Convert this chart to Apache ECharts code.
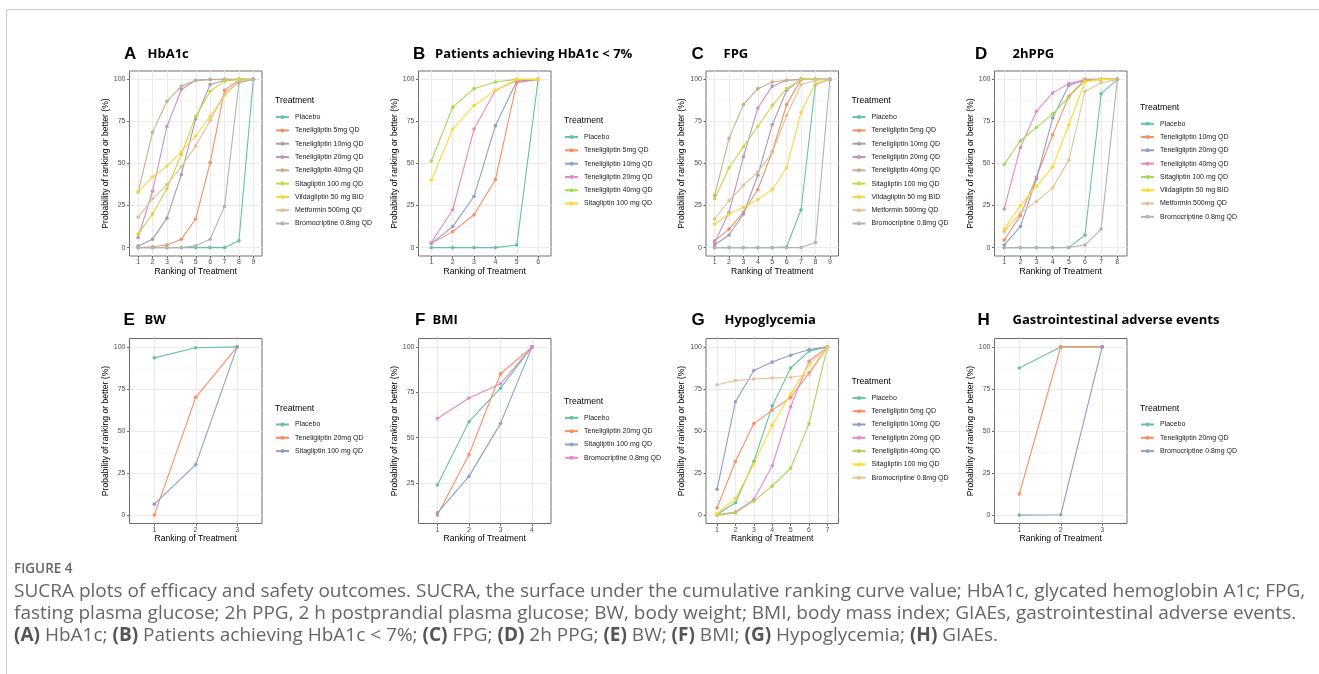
<!DOCTYPE html>
<html>
<head>
<meta charset="utf-8">
<title>SUCRA plots</title>
<script src="https://cdn.jsdelivr.net/npm/echarts@6/dist/echarts.min.js"></script>
<style>
html, body { margin: 0; padding: 0; background: #fff; }
#page { position: relative; width: 1319px; height: 674px; overflow: hidden; }
#graph01 { position: absolute; left: 0; top: 0; width: 1319px; height: 674px; }
#frame { position: absolute; left: 6px; top: 9px; width: 1320px; height: 700px;
  border-left: 1px solid #cfcfcf; border-top: 1px solid #cfcfcf; pointer-events: none; }
#caption { position: absolute; left: 14px; top: 557px; white-space: nowrap;
  font-family: "Open Sans", sans-serif; font-size: 19px; line-height: 22px; color: #666; }
#caption .fig { font-weight: 600; font-size: 13.5px; color: #666; }
#caption b { font-weight: 700; color: #555; }
</style>
</head>
<body>
<div id="page">
  <div id="graph01"></div>
  <div id="frame"></div>
  <div id="caption">
    <div class="fig">FIGURE 4</div>
    SUCRA plots of efficacy and safety outcomes. SUCRA, the surface under the cumulative ranking curve value; HbA1c, glycated hemoglobin A1c; FPG,<br>
    fasting plasma glucose; 2h PPG, 2 h postprandial plasma glucose; BW, body weight; BMI, body mass index; GIAEs, gastrointestinal adverse events.<br>
    <b>(A)</b> HbA1c; <b>(B)</b> Patients achieving HbA1c &lt; 7%; <b>(C)</b> FPG; <b>(D)</b> 2h PPG; <b>(E)</b> BW; <b>(F)</b> BMI; <b>(G)</b> Hypoglycemia; <b>(H)</b> GIAEs.
  </div>
</div>
<script>
// tick labels for the ranking axis
var rankLabels = [1, 2, 3, 4, 5, 6, 7, 8, 9];
var probLabels = [0, 25, 50, 75, 100];
var probMinor = [12.5, 37.5, 62.5, 87.5];

// A  HbA1c
var hba1cTreat = ['Placebo', 'Teneligliptin 5mg QD', 'Teneligliptin 10mg QD', 'Teneligliptin 20mg QD', 'Teneligliptin 40mg QD',
  'Sitagliptin 100 mg QD', 'Vildagliptin 50 mg BID', 'Metformin 500mg QD', 'Bromocriptine 0.8mg QD'];
var hba1cVals = [
  [0, 0, 0, 0, 0, 0, 0, 4, 100],
  [0, 0.5, 1.5, 5, 17, 50.5, 93.5, 99.5, 100],
  [1, 5, 17.5, 43.5, 76.5, 97, 99.5, 100, 100],
  [6, 33.5, 72, 94, 99.5, 100, 100, 100, 100],
  [33, 68.5, 87, 96, 99.3, 99.8, 100, 100, 100],
  [8, 20, 35, 55.5, 78, 93, 99, 100, 100],
  [33, 42, 48.5, 57, 66.5, 78, 90.5, 99, 100],
  [18, 29, 37.5, 48, 60.5, 75.5, 91.5, 98.5, 100],
  [0, 0, 0, 0, 1, 5, 24.5, 98, 100]
];

// B  Patients achieving HbA1c < 7%
var targetTreat = ['Placebo', 'Teneligliptin 5mg QD', 'Teneligliptin 10mg QD', 'Teneligliptin 20mg QD', 'Teneligliptin 40mg QD',
  'Sitagliptin 100 mg QD'];
var targetVals = [
  [0, 0, 0, 0, 1.5, 100],
  [2.5, 9.5, 19.5, 40.5, 98, 100],
  [2.5, 12.5, 30.5, 72.5, 99, 100],
  [3, 22.5, 70.5, 93.5, 99.5, 100],
  [51.5, 83.5, 94.5, 98.5, 100, 100],
  [40, 70.5, 84.5, 93.5, 100, 100]
];

// C  FPG
var fpgTreat = hba1cTreat;
var fpgVals = [
  [0, 0, 0, 0, 0, 0.5, 22.5, 97, 100],
  [4, 11, 21, 34.5, 57, 85, 100, 100, 100],
  [1.5, 7.5, 20, 43, 73, 93.5, 100, 100, 100],
  [3, 21, 54, 83, 96, 99.5, 100, 100, 100],
  [31, 65, 85, 94.5, 98.5, 99.5, 100, 100, 100],
  [29, 47.5, 60, 72, 84.5, 94.5, 100, 100, 100],
  [14, 20, 24, 28.5, 34.5, 47.5, 80.5, 97.5, 100],
  [17, 28, 37, 45, 56.5, 78.5, 97, 99.5, 100],
  [0, 0, 0, 0, 0, 0, 0, 3, 100]
];

// D  2hPPG
var ppgTreat = ['Placebo', 'Teneligliptin 10mg QD', 'Teneligliptin 20mg QD', 'Teneligliptin 40mg QD', 'Sitagliptin 100 mg QD',
  'Vildagliptin 50 mg BID', 'Metformin 500mg QD', 'Bromocriptine 0.8mg QD'];
var ppgVals = [
  [0, 0, 0, 0, 0, 7.5, 91.5, 100],
  [4.5, 19, 42, 67, 90, 100, 100, 100],
  [1.5, 12.5, 41, 77, 96.5, 99.5, 100, 100],
  [23, 59.5, 81, 92, 97.5, 100, 100, 100],
  [49.5, 63.5, 71.5, 79.5, 89.5, 99.5, 100, 100],
  [11, 25, 36.5, 48, 73, 98.5, 100, 100],
  [9.5, 20.5, 27.5, 35.5, 52, 93, 98, 100],
  [0, 0, 0, 0, 0.2, 1.5, 11, 100]
];

// E  BW
var bwTreat = ['Placebo', 'Teneligliptin 20mg QD', 'Sitagliptin 100 mg QD'];
var bwVals = [
  [93.5, 99.5, 100],
  [0, 70, 100],
  [6.5, 30, 100]
];

// F  BMI
var bmiTreat = ['Placebo', 'Teneligliptin 20mg QD', 'Sitagliptin 100 mg QD', 'Bromocriptine 0.8mg QD'];
var bmiVals = [
  [24, 58.8, 77.3, 100],
  [7.4, 40.7, 85.2, 100],
  [8.6, 28.7, 57.9, 100],
  [60.6, 71.9, 79.7, 100]
];

// G  Hypoglycemia
var hypoTreat = ['Placebo', 'Teneligliptin 5mg QD', 'Teneligliptin 10mg QD', 'Teneligliptin 20mg QD', 'Teneligliptin 40mg QD',
  'Sitagliptin 100 mg QD', 'Bromocriptine 0.8mg QD'];
var hypoVals = [
  [0.5, 7.5, 32, 65, 87.5, 97.5, 100],
  [4.5, 32, 54.5, 62.5, 70, 84.5, 100],
  [15.5, 67.5, 86, 91, 95, 98.5, 100],
  [0.5, 2, 9.5, 29.5, 64.5, 91.5, 100],
  [0.2, 1.5, 8.5, 17.5, 28, 54.5, 100],
  [1, 10, 30.5, 53.5, 72, 89.5, 100],
  [77.5, 80, 81, 81.5, 82, 83.5, 100]
];

// H  Gastrointestinal adverse events
var giTreat = ['Placebo', 'Teneligliptin 20mg QD', 'Bromocriptine 0.8mg QD'];
var giVals = [
  [87.5, 100, 100],
  [12.5, 100, 100],
  [0, 0.2, 100]
];

var set2 = ['#66C2A5', '#FC8D62', '#8DA0CB', '#E78AC3', '#A6D854', '#FFD92F', '#E5C494', '#B3B3B3'];
var set2x9 = ['#66C2A5', '#E9946A', '#A99BB1', '#C592C6', '#C6B18B', '#C7D846', '#F8D448', '#DFC298', '#B3B3B3'];

var panels = [
  { id: 'A', title: 'HbA1c', treat: hba1cTreat, vals: hba1cVals, colors: set2x9 },
  { id: 'B', title: 'Patients achieving HbA1c < 7%', treat: targetTreat, vals: targetVals, colors: set2 },
  { id: 'C', title: 'FPG', treat: fpgTreat, vals: fpgVals, colors: set2x9 },
  { id: 'D', title: '2hPPG', treat: ppgTreat, vals: ppgVals, colors: set2 },
  { id: 'E', title: 'BW', treat: bwTreat, vals: bwVals, colors: set2 },
  { id: 'F', title: 'BMI', treat: bmiTreat, vals: bmiVals, colors: set2 },
  { id: 'G', title: 'Hypoglycemia', treat: hypoTreat, vals: hypoVals, colors: set2 },
  { id: 'H', title: 'Gastrointestinal adverse events', treat: giTreat, vals: giVals, colors: set2 }
];

// layout
var colLeft = [129.5, 418.5, 706, 994.5];
var rowTop = [71, 338.5];
var gridW = 132.5, gridH = 185;
var letterX = [124, 413, 691.5, 975, 123.5, 415, 691.5, 977.5];
var titleX = [147.5, 435, 723.5, 1012.5, 144.5, 432.5, 724.5, 1012.5];
var titleY = [54, 320.5];
var itemStep = 13.3, legendItemH = 5;

var axisFont = '"Liberation Sans", Arial, sans-serif';
var chart = echarts.init(document.getElementById('graph01'));
var grids = [], xAxes = [], yAxes = [], series = [], legends = [], texts = [];

panels.forEach(function (p, k) {
  var col = k % 4, row = Math.floor(k / 4);
  var left = colLeft[col], top = rowTop[row];
  var n = p.vals[0].length;
  var all = [].concat.apply([], p.vals);
  var lo = Math.min.apply(null, all), hi = Math.max.apply(null, all);
  var pad = (hi - lo) * 0.05;
  var ymin = lo - pad, ymax = hi + pad;
  var inRange = function (v) { return v >= ymin && v <= ymax; };

  grids.push({ left: left, top: top, width: gridW, height: gridH, show: true,
    borderColor: '#6e6e6e', borderWidth: 1, backgroundColor: '#fff' });

  xAxes.push({
    gridIndex: k, type: 'value', min: 0.4, max: n + 0.6,
    name: 'Ranking of Treatment', nameLocation: 'middle', nameGap: 9,
    nameTextStyle: { fontSize: 8.6, color: '#000', fontFamily: axisFont },
    axisLine: { show: false, onZero: false },
    axisTick: { show: true, length: 2.5, customValues: rankLabels.slice(0, n), lineStyle: { color: '#444', width: 0.8 } },
    axisLabel: { margin: 3, fontSize: 7, color: '#4d4d4d', fontFamily: axisFont, customValues: rankLabels.slice(0, n) },
    splitLine: { show: true, lineStyle: { color: '#ebebeb', width: 1 } }
  });

  yAxes.push({
    gridIndex: k, type: 'value', min: ymin, max: ymax, position: 'left',
    name: 'Probability of ranking or better (%)', nameLocation: 'middle', nameGap: 19,
    nameTextStyle: { fontSize: 8.6, color: '#000', fontFamily: axisFont },
    axisLine: { show: false, onZero: false },
    axisTick: { show: true, length: 2.5, customValues: probLabels.filter(inRange), lineStyle: { color: '#444', width: 0.8 } },
    axisLabel: { margin: 4, fontSize: 7, color: '#4d4d4d', fontFamily: axisFont, customValues: probLabels.filter(inRange) },
    splitLine: { show: true, lineStyle: { color: '#ebebeb', width: 1 } }
  });
  // minor grid lines
  yAxes.push({
    gridIndex: k, type: 'value', min: ymin, max: ymax, position: 'left', z: 0,
    axisLine: { show: false, onZero: false },
    axisTick: { show: false, customValues: probMinor.filter(inRange) },
    axisLabel: { show: false, customValues: probMinor.filter(inRange) },
    splitLine: { show: true, lineStyle: { color: '#f4f4f4', width: 0.6 } }
  });

  var names = [];
  p.treat.forEach(function (t, i) {
    var nm = p.id + '|' + t;
    names.push(nm);
    series.push({
      name: nm, type: 'line', xAxisIndex: k, yAxisIndex: 2 * k,
      data: p.vals[i].map(function (v, j) { return [rankLabels[j], v]; }),
      symbol: 'circle', symbolSize: 3.6, showSymbol: true,
      color: p.colors[i],
      lineStyle: { width: 1.1, color: p.colors[i] },
      itemStyle: { color: p.colors[i] },
      emphasis: { disabled: true }
    });
  });

  // legend block centred on the panel
  var centre = top + gridH / 2 - 1.7;
  var titleCy = centre - (15 + (p.treat.length - 1) * itemStep) / 2;
  var firstCy = titleCy + 15;
  var legLeft = left + gridW + 13;
  legends.push({
    orient: 'vertical', left: legLeft, top: firstCy - legendItemH / 2, padding: 0,
    itemWidth: 13, itemHeight: legendItemH, itemGap: itemStep - 7,
    data: names, selectedMode: false,
    formatter: function (name) { return name.slice(name.indexOf('|') + 1); },
    textStyle: { fontSize: 7, color: '#1a1a1a', fontFamily: axisFont, lineHeight: 7, padding: [0, 0, 0, 1] }
  });
  texts.push({ type: 'text', x: legLeft, y: titleCy,
    style: { text: 'Treatment', font: '8.7px ' + axisFont, fill: '#000', textVerticalAlign: 'middle' } });
  texts.push({ type: 'text', x: letterX[k], y: titleY[row],
    style: { text: p.id, font: 'bold 17px ' + axisFont, fill: '#000', textVerticalAlign: 'middle' } });
  texts.push({ type: 'text', x: titleX[k], y: titleY[row],
    style: { text: p.title, font: 'bold 13px "Open Sans", sans-serif', fill: '#000', textVerticalAlign: 'middle' } });
});

var option = {
  animation: false,
  grid: grids,
  xAxis: xAxes,
  yAxis: yAxes,
  legend: legends,
  graphic: { elements: texts },
  series: series
};
chart.setOption(option);
</script>
</body>
</html>
